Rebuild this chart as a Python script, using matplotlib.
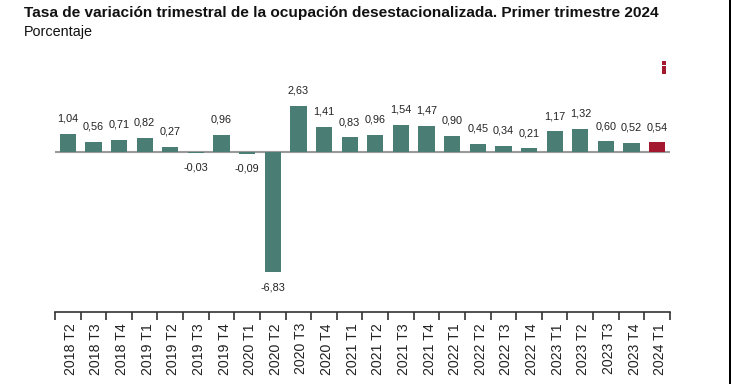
import matplotlib
matplotlib.use("Agg")
import matplotlib.pyplot as plt
from matplotlib.patches import Rectangle
from matplotlib.ticker import FixedLocator
from matplotlib.transforms import ScaledTranslation

plt.rcParams['font.family'] = ['Liberation Sans', 'DejaVu Sans']

categories = ["2018 T2", "2018 T3", "2018 T4", "2019 T1", "2019 T2", "2019 T3", "2019 T4",
              "2020 T1", "2020 T2", "2020 T3", "2020 T4", "2021 T1", "2021 T2", "2021 T3",
              "2021 T4", "2022 T1", "2022 T2", "2022 T3", "2022 T4", "2023 T1", "2023 T2",
              "2023 T3", "2023 T4", "2024 T1"]
values = [1.04, 0.56, 0.71, 0.82, 0.27, -0.03, 0.96, -0.09, -6.83, 2.63, 1.41, 0.83,
          0.96, 1.54, 1.47, 0.90, 0.45, 0.34, 0.21, 1.17, 1.32, 0.60, 0.52, 0.54]

TEAL = "#4a7d74"
RED = "#a3192f"
colors = [TEAL] * (len(values) - 1) + [RED]

W, H = 731, 384
fig = plt.figure(figsize=(W / 100, H / 100), dpi=100)

def fx(px):
    return px / W

def fy(py):
    return 1 - py / H

x_left, x_right = 55, 670
# main bar axes
top_px, bot_px = 80, 300
ax = fig.add_axes([fx(x_left), fy(bot_px), fx(x_right - x_left), (bot_px - top_px) / H])
n = len(values)
xs = list(range(n))
ax.bar(xs, values, width=0.63, color=colors, zorder=2)
ax.axhline(0, color="#9a9a9a", lw=1.5, zorder=1)
ax.set_xlim(-0.5, n - 0.5)
scale = 17.6
ax.set_ylim(-(bot_px - 152) / scale, (152 - top_px) / scale)
ax.axis("off")

for x, v in zip(xs, values):
    off = 11 if v >= 0 else -11
    ax.annotate(f"{v:.2f}".replace(".", ","), (x, v), xytext=(0, off),
                textcoords="offset points", ha="center", va="center",
                fontsize=7.8, color="#222222")

# category axis
axc = fig.add_axes([fx(x_left), fy(312), fx(x_right - x_left), 0.0001])
axc.set_xlim(-0.5, n - 0.5)
axc.set_yticks([])
for s in ["top", "left", "right"]:
    axc.spines[s].set_visible(False)
axc.spines["bottom"].set_color("#333333")
axc.spines["bottom"].set_linewidth(1.2)
axc.xaxis.set_major_locator(FixedLocator(xs))
axc.set_xticklabels(categories, rotation=90, fontsize=10.2, color="#222222")
axc.tick_params(axis="x", which="major", length=0, pad=8)
shift = ScaledTranslation(3 / 100, 0, fig.dpi_scale_trans)
for lab in axc.get_xticklabels():
    lab.set_transform(lab.get_transform() + shift)
axc.xaxis.set_minor_locator(FixedLocator([i - 0.5 for i in range(n + 1)]))
axc.tick_params(axis="x", which="minor", length=6, width=1.2, color="#333333")
axc.patch.set_visible(False)

# titles
fig.text(fx(24), fy(13), "Tasa de variación trimestral de la ocupación desestacionalizada. Primer trimestre 2024",
         fontsize=11.1, fontweight="bold", ha="left", va="center", color="#111111")
fig.text(fx(24), fy(32), "Porcentaje", fontsize=10.4, ha="left", va="center", color="#111111")

# menu icon
for yy in [61, 66, 70.5]:
    fig.add_artist(Rectangle((fx(662), fy(yy + 3.5)), fx(4), 3.5 / H,
                             color=RED, lw=0, transform=fig.transFigure))

# right edge border
fig.add_artist(Rectangle((fx(729), 0), fx(2), 1, color="black", lw=0, transform=fig.transFigure))

fig.savefig("out.png", dpi=100)
